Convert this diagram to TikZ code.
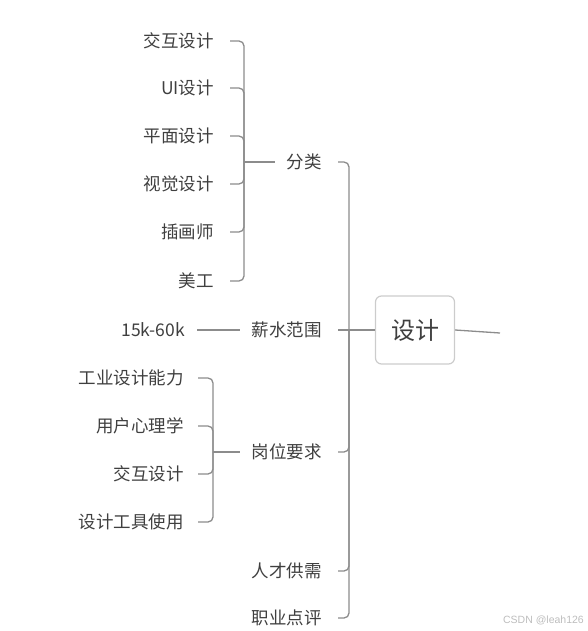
\documentclass[tikz,border=0pt]{standalone}
\usepackage{xcolor}
\usepackage{fontspec}
\setmainfont{Noto Sans CJK SC}
\newfontfamily\wmfont{Liberation Sans}
\usepackage{tikz}

\definecolor{chu}{HTML}{3F3F3F}
\definecolor{net}{HTML}{8C8C8C}
\definecolor{vien}{HTML}{CCCCCC}

\tikzset{
	leaf/.style={anchor=east, inner sep=2pt, text=chu, font=\fontsize{17.5}{20}\selectfont},
	root/.style={draw=vien, line width=1.2pt, rounded corners=6pt, minimum width=79pt, minimum height=68pt, text=chu, font=\fontsize{24}{28}\selectfont},
	link/.style={draw=net, line width=1.3pt, rounded corners=5pt}
}

\begin{document}
\begin{tikzpicture}[x=1pt,y=-1pt]
			\useasboundingbox (0,0) rectangle (587,631);
			% Nút gốc
			\node[root] (goc) at (415,330) {设计};
			\coordinate (ngoai) at (500,333);
			\draw[link] (goc.east) -- (ngoai);
			\coordinate (jm) at (349,330);
			\draw[link] (jm) -- (goc.west);
			% Nhánh chính
			\node[leaf] (fl) at (324,162) {分类};
			\node[leaf] (xs) at (324,330) {薪水范围};
			\node[leaf] (gw) at (324,452) {岗位要求};
			\node[leaf] (rc) at (324,571) {人才供需};
			\node[leaf] (zy) at (324,618) {职业点评};
			\foreach \n in {fl,gw,rc,zy}
			\draw[link] ([xshift=14pt]\n.east) -| (jm);
			\draw[link] ([xshift=14pt]xs.east) -- (jm);
			% Nhánh 分类
			\coordinate (jf) at (244,162);
			\foreach \t/\y [count=\i] in {交互设计/41, UI设计/88, 平面设计/136, 视觉设计/184, 插画师/232, 美工/281}
			\node[leaf] (fl\i) at (216,\y) {\t};
			\foreach \i in {1,...,6}
			\draw[link] ([xshift=14pt]fl\i.east) -| (jf);
			\draw[link] (jf) -- ([xshift=-10pt]fl.west);
			% Nhánh 薪水范围
			\node[leaf] (xs1) at (187,330) {15k-60k};
			\draw[link] ([xshift=10pt]xs1.east) -- ([xshift=-10pt]xs.west);
			% Nhánh 岗位要求
			\coordinate (jg) at (213,452);
			\foreach \t/\y [count=\i] in {工业设计能力/378, 用户心理学/426, 交互设计/474, 设计工具使用/522}
			\node[leaf] (gw\i) at (186,\y) {\t};
			\foreach \i in {1,...,4}
			\draw[link] ([xshift=12pt]gw\i.east) -| (jg);
			\draw[link] (jg) -- ([xshift=-10pt]gw.west);
			% Chữ mờ
			\node[anchor=east, inner sep=0pt, text=vien!80!gray, font=\wmfont\fontsize{10.5}{12}\selectfont] (wm) at (584,620) {CSDN @leah126};
		\end{tikzpicture}
\end{document}
